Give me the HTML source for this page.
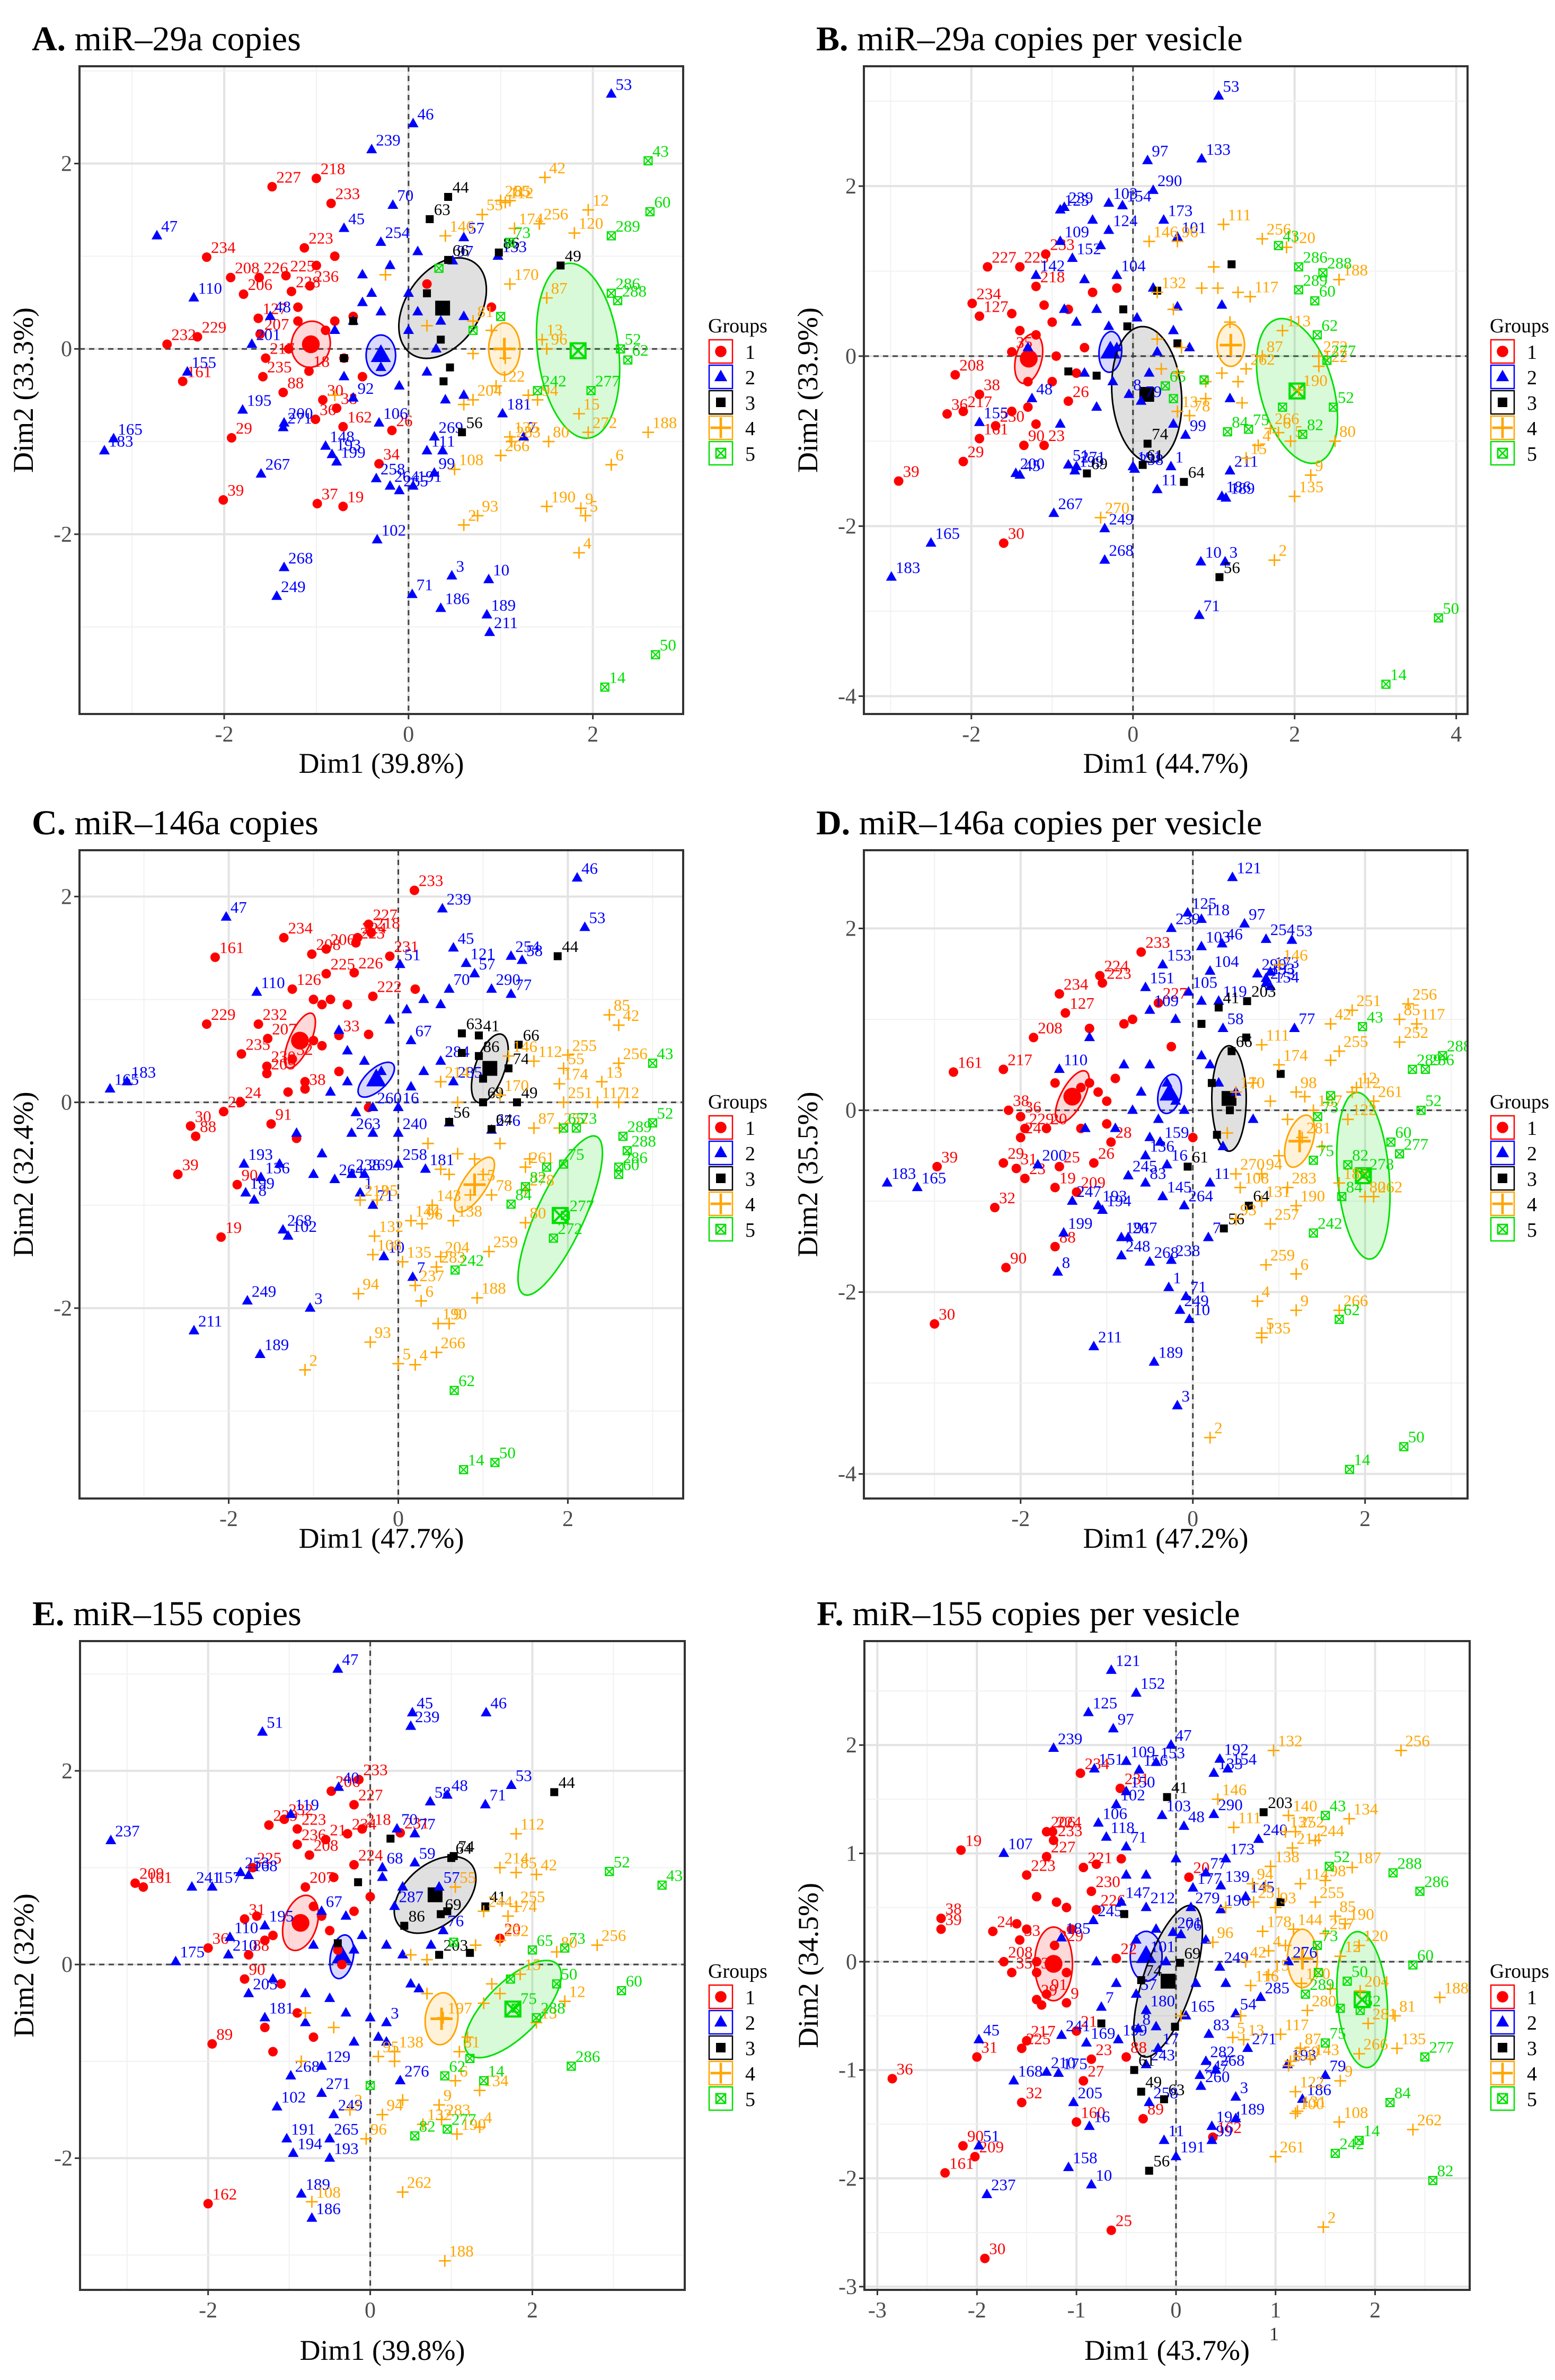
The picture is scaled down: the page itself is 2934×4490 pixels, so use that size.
<!DOCTYPE html>
<html><head><meta charset="utf-8">
<style>
html,body{margin:0;padding:0;background:#fff;}
svg{display:block;font-family:"Liberation Serif",serif;}
svg text{font-family:"Liberation Serif","DejaVu Serif",serif;}
</style></head>
<body>
<svg id="fig" width="2934" height="4490" viewBox="0 0 2934 4490" xmlns="http://www.w3.org/2000/svg"></svg>
<script>
// ---------- DATA (x, y, group, label) ----------
const A_pts = [
[-1.0,1.84,1,'218'],[-1.48,1.75,1,'227'],[-0.84,1.57,1,'233'],[-2.19,0.99,1,'234'],[-1.13,1.09,1,'223'],[-1.62,0.77,1,'226'],[-1.33,0.79,1,'225'],[-1.93,0.77,1,'208'],[-1.79,0.59,1,'206'],[-1.27,0.62,1,'228'],[-1.07,0.68,1,'236'],[-1.63,0.33,1,'127'],[-2.29,0.13,1,'229'],[-1.61,0.16,1,'207'],[-2.62,0.05,1,'232'],[-1.55,-0.1,1,'217'],[-1.08,-0.24,1,'18'],[-2.45,-0.35,1,'161'],[-1.58,-0.3,1,'235'],[-1.36,-0.47,1,'88'],[-1.92,-0.96,1,'29'],[-1.01,-0.76,1,'36'],[-0.78,-0.64,1,'38'],[-0.93,-0.55,1,'30'],[-2.01,-1.63,1,'39'],[-0.71,-0.84,1,'162'],[-0.32,-1.24,1,'34'],[-0.18,-0.88,1,'26'],[-0.99,-1.67,1,'37'],[-0.71,-1.7,1,'19'],
[-0.9,0.2,1,''],[-0.8,0.3,1,''],[-1.2,0.3,1,''],[-1.3,0.0,1,''],[-0.7,-0.1,1,''],[-1.0,0.9,1,''],[-0.8,1.0,1,''],[-1.2,0.45,1,''],[-0.6,0.35,1,''],[0.2,0.7,1,''],[0.9,0.45,1,''],[-0.5,-0.3,1,''],
[2.2,2.75,2,'53'],[0.05,2.43,2,'46'],[-0.4,2.15,2,'239'],[-0.17,1.55,2,'70'],[-0.7,1.3,2,'45'],[-2.73,1.22,2,'47'],[-0.3,1.15,2,'254'],[0.6,1.2,2,'57'],[0.48,0.95,2,'97'],[0.97,1.0,2,'133'],[-2.33,0.55,2,'110'],[-1.5,0.35,2,'48'],[-2.4,-0.25,2,'155'],[-1.7,0.05,2,'201'],[-1.8,-0.66,2,'195'],[-3.2,-0.97,2,'165'],[-3.3,-1.1,2,'183'],[-1.35,-0.8,2,'200'],[-1.36,-0.85,2,'271'],[-1.6,-1.35,2,'267'],[-0.9,-1.05,2,'148'],[-0.83,-1.14,2,'193'],[-0.78,-1.22,2,'199'],[-0.32,-0.8,2,'106'],[-0.6,-0.53,2,'92'],[-0.35,-1.4,2,'258'],[-0.2,-1.48,2,'264'],[-0.1,-1.53,2,'265'],[0.05,-1.48,2,'191'],[0.2,-1.1,2,'11'],[0.28,-0.95,2,'269'],[0.37,-1.1,2,'1'],[0.28,-1.34,2,'99'],[-1.35,-2.36,2,'268'],[-1.43,-2.67,2,'249'],[-0.34,-2.06,2,'102'],[0.04,-2.65,2,'71'],[0.47,-2.45,2,'3'],[0.87,-2.49,2,'10'],[0.85,-2.87,2,'189'],[0.35,-2.8,2,'186'],[0.88,-3.06,2,'211'],[1.25,-0.95,2,'7'],[1.02,-0.7,2,'181'],
[-0.5,0.8,2,''],[-0.4,0.6,2,''],[-0.2,0.9,2,''],[0,0.6,2,''],[0.1,0.4,2,''],[-0.6,0.3,2,''],[-0.8,0.2,2,''],[-0.3,0.4,2,''],[0,0.2,2,''],[0.2,-0.25,2,''],[0.6,-0.5,2,''],[0.4,-0.55,2,''],[-0.1,-0.4,2,''],[-0.3,-0.2,2,''],[0.1,1.05,2,''],[-0.5,0.5,2,''],[0.3,0.0,2,''],[0.6,0.35,2,''],[-0.7,-0.3,2,''],[0.35,0.3,2,''],
[0.43,1.64,3,'44'],[0.23,1.4,3,'63'],[0.43,0.96,3,'66'],[0.98,1.04,3,'86'],[1.65,0.9,3,'49'],[0.58,-0.9,3,'56'],[0.2,0.6,3,''],[0.35,0.1,3,''],[0.38,-0.35,3,''],[-0.6,0.3,3,''],[-0.7,-0.1,3,''],[0.45,-0.2,3,''],
[1.0,1.6,4,'255'],[1.1,1.6,4,'85'],[0.4,1.22,4,'146'],[0.8,1.45,4,'55'],[1.05,1.58,4,'112'],[1.15,1.3,4,'174'],[1.48,1.85,4,'42'],[1.95,1.5,4,'12'],[1.42,1.35,4,'256'],[1.8,1.25,4,'120'],[1.1,0.7,4,'170'],[0.7,0.3,4,'81'],[1.5,0.55,4,'87'],[1.45,0.1,4,'13'],[1.5,0.0,4,'96'],[0.95,-0.4,4,'122'],[1.4,-0.55,4,'94'],[1.85,-0.7,4,'15'],[0.7,-0.55,4,'204'],[1.95,-0.9,4,'272'],[2.6,-0.9,4,'188'],[1.1,-0.95,4,'135'],[1.52,-1.0,4,'80'],[1.0,-1.15,4,'266'],[1.12,-1.0,4,'283'],[0.5,-1.3,4,'108'],[2.2,-1.25,4,'6'],[0.75,-1.8,4,'93'],[1.87,-1.72,4,'9'],[1.5,-1.7,4,'190'],[1.92,-1.8,4,'5'],[0.6,-1.9,4,'2'],[1.85,-2.2,4,'4'],
[0.9,0.2,4,''],[1.05,-0.1,4,''],[0.7,-0.05,4,''],[0.6,-0.6,4,''],[1.3,-0.5,4,''],[-0.8,-0.5,4,''],[-0.25,0.8,4,''],[0.2,0.25,4,''],
[2.6,2.03,5,'43'],[2.62,1.48,5,'60'],[2.2,1.22,5,'289'],[1.1,1.15,5,'73'],[2.2,0.6,5,'286'],[2.27,0.52,5,'288'],[2.3,0.0,5,'52'],[2.38,-0.12,5,'62'],[1.98,-0.45,5,'277'],[1.4,-0.45,5,'242'],[2.68,-3.3,5,'50'],[2.13,-3.65,5,'14'],[0.33,0.87,5,''],[1.0,0.35,5,''],[0.7,0.2,5,'']
];
const A_ell = [[1,-1.06,0.05,0.25,0.21,80],[2,-0.3,-0.07,0.22,0.16,90],[3,0.37,0.44,0.6,0.4,55],[4,1.04,0.0,0.28,0.17,90],[5,1.84,-0.02,0.95,0.44,97]];

const B_pts = [
[-1.08,1.2,1,'233'],[-1.8,1.05,1,'227'],[-1.4,1.05,1,'223'],[-1.2,0.82,1,'218'],[-1.99,0.62,1,'234'],[-1.9,0.47,1,'127'],[-1.5,0.05,1,'35'],[-2.2,-0.22,1,'208'],[-1.9,-0.45,1,'38'],[-2.3,-0.68,1,'36'],[-2.1,-0.65,1,'217'],[-1.7,-0.82,1,'230'],[-1.9,-0.97,1,'161'],[-1.35,-1.05,1,'90'],[-1.1,-1.05,1,'23'],[-2.1,-1.24,1,'29'],[-2.9,-1.47,1,'39'],[-1.6,-2.2,1,'30'],[-0.8,-0.53,1,'26'],
[-1.5,0.5,1,''],[-1.4,0.3,1,''],[-1.2,0.25,1,''],[-1.0,0.4,1,''],[-1.1,0.6,1,''],[-0.8,0.55,1,''],[-1.3,-0.3,1,''],[-1.0,-0.3,1,''],[-1.5,-0.65,1,''],[-1.3,-0.6,1,''],[-0.7,-0.2,1,''],[-0.5,0.75,1,''],[-1.2,-0.8,1,''],[-0.95,0.0,1,''],[-0.6,0.1,1,''],[-0.2,0.8,1,''],
[1.06,3.06,2,'53'],[0.18,2.3,2,'97'],[0.85,2.32,2,'133'],[0.25,1.95,2,'290'],[-0.3,1.8,2,'103'],[-0.85,1.75,2,'239'],[-0.9,1.72,2,'125'],[-0.13,1.77,2,'154'],[0.38,1.6,2,'173'],[-0.9,1.35,2,'109'],[-0.3,1.48,2,'124'],[0.55,1.4,2,'101'],[-0.75,1.15,2,'152'],[-1.2,0.95,2,'142'],[-0.2,0.95,2,'104'],[-1.25,-0.5,2,'48'],[-1.9,-0.78,2,'155'],[-1.4,-1.4,2,'45'],[-0.8,-1.28,2,'51'],[-1.45,-1.38,2,'200'],[-0.7,-1.3,2,'271'],[-0.72,-1.35,2,'199'],[-0.98,-1.85,2,'267'],[-2.5,-2.2,2,'165'],[-2.99,-2.6,2,'183'],[-0.35,-2.03,2,'249'],[-0.35,-2.4,2,'268'],[0.0,-1.3,2,'191'],[0.02,-1.33,2,'258'],[0.3,-1.57,2,'11'],[0.65,-0.93,2,'99'],[0.47,-1.3,2,'1'],[1.1,-1.65,2,'186'],[1.2,-1.35,2,'211'],[1.15,-1.67,2,'189'],[0.84,-2.42,2,'10'],[1.14,-2.42,2,'3'],[0.82,-3.05,2,'71'],[0.1,-0.53,2,'79'],[-0.05,-0.45,2,'8'],
[-0.5,1.6,2,''],[-0.4,1.3,2,''],[-0.6,0.9,2,''],[-0.45,0.55,2,''],[-0.3,0.35,2,''],[-0.2,0.1,2,''],[0.05,0.45,2,''],[0.25,0.8,2,''],[0.5,0.3,2,''],[0.55,0.58,2,''],[0.7,0.1,2,''],[-0.7,0.4,2,''],[-0.85,0.55,2,''],[-0.6,-0.2,2,''],[-0.45,-0.6,2,''],[-0.25,-0.3,2,''],[0.2,-0.2,2,''],[0.5,-0.8,2,''],[-0.9,-0.8,2,''],[0.3,0.05,2,''],[1.1,0.6,2,''],[1.2,-0.5,2,''],[-1.3,0.1,2,''],
[0.3,0.77,3,''],[-0.12,0.55,3,''],[-0.07,0.35,3,''],[0.55,0.15,3,''],[-0.8,-0.18,3,''],[-0.45,-0.23,3,''],[0.18,-1.03,3,'74'],[0.12,-1.28,3,'61'],[0.63,-1.48,3,'64'],[-0.57,-1.38,3,'69'],[1.07,-2.6,3,'56'],[1.22,1.08,3,''],
[1.12,1.55,4,'111'],[1.6,1.38,4,'256'],[1.9,1.28,4,'120'],[0.2,1.35,4,'146'],[0.55,1.35,4,'96'],[0.3,0.75,4,'132'],[1.45,0.7,4,'117'],[1.85,0.3,4,'113'],[1.6,0.0,4,'87'],[2.3,-0.12,4,'122'],[2.3,0.0,4,'272'],[2.55,0.9,4,'188'],[1.4,-0.15,4,'262'],[2.05,-0.4,4,'190'],[1.7,-0.85,4,'266'],[1.8,-0.9,4,'6'],[1.55,-1.05,4,'4'],[1.95,-1.0,4,'5'],[2.5,-1.0,4,'80'],[2.2,-1.4,4,'9'],[1.4,-1.2,4,'15'],[2.0,-1.65,4,'135'],[1.75,-2.4,4,'2'],[0.7,-0.7,4,'78'],[0.55,-0.65,4,'13'],[-0.4,-1.9,4,'270'],
[1.0,1.05,4,''],[0.85,0.8,4,''],[1.05,0.8,4,''],[1.3,0.75,4,''],[1.2,0.4,4,''],[0.5,0.55,4,''],[0.3,0.2,4,''],[0.6,0.1,4,''],[0.35,-0.15,4,''],[0.9,-0.3,4,''],[1.1,-0.2,4,''],[0.9,-0.5,4,''],[1.3,-0.3,4,''],[1.35,-0.55,4,''],[0.55,-0.2,4,''],
[1.8,1.3,5,'43'],[2.35,0.98,5,'288'],[2.05,1.05,5,'286'],[2.05,0.78,5,'289'],[2.25,0.65,5,'60'],[2.28,0.25,5,'62'],[2.4,-0.05,5,'277'],[2.48,-0.6,5,'52'],[2.1,-0.92,5,'82'],[1.17,-0.89,5,'84'],[1.43,-0.86,5,'75'],[0.4,-0.35,5,'65'],[3.78,-3.08,5,'50'],[3.13,-3.86,5,'14'],[0.88,-0.28,5,''],[0.5,-0.5,5,''],[1.85,-0.6,5,'']
];
const B_ell = [[1,-1.29,-0.03,0.3,0.16,75],[2,-0.28,0.05,0.24,0.14,85],[3,0.17,-0.45,0.8,0.43,95],[4,1.21,0.13,0.25,0.17,90],[5,2.03,-0.41,0.88,0.45,107]];

const C_pts = [
[0.19,2.06,1,'233'],[-0.35,1.73,1,'227'],[-0.48,1.6,1,'224'],[-0.32,1.65,1,'218'],[-0.1,1.42,1,'231'],[-0.85,1.49,1,'206'],[-1.35,1.6,1,'234'],[-1.02,1.44,1,'208'],[-0.5,1.55,1,'223'],[-0.85,1.25,1,'225'],[-0.52,1.26,1,'226'],[-2.16,1.41,1,'161'],[-1.25,1.1,1,'126'],[-0.3,1.03,1,'222'],[-2.26,0.76,1,'229'],[-1.65,0.76,1,'232'],[-1.54,0.62,1,'207'],[-0.7,0.65,1,'33'],[-1.85,0.47,1,'235'],[-1.55,0.35,1,'230'],[-1.55,0.28,1,'209'],[-1.25,0.42,1,'32'],[-1.1,0.13,1,'38'],[-1.86,0.0,1,'24'],[-2.06,-0.09,1,'29'],[-2.45,-0.23,1,'30'],[-2.39,-0.33,1,'88'],[-1.5,-0.21,1,'91'],[-2.6,-0.7,1,'39'],[-1.9,-0.8,1,'90'],[-2.09,-1.31,1,'19'],
[-1.0,1.0,1,''],[-0.9,0.95,1,''],[-0.8,1.0,1,''],[-0.6,0.95,1,''],[-1.0,0.6,1,''],[-0.9,0.55,1,''],[-0.7,0.3,1,''],[-1.1,0.2,1,''],[-1.3,0.1,1,''],[-0.35,0.66,1,''],[0.2,1.1,1,''],[-0.35,-0.05,1,''],[-1.2,-0.35,1,''],
[2.11,2.18,2,'46'],[2.2,1.7,2,'53'],[0.52,1.88,2,'239'],[0.65,1.5,2,'45'],[-2.03,1.8,2,'47'],[0.8,1.35,2,'121'],[0.9,1.25,2,'57'],[1.33,1.42,2,'254'],[1.46,1.38,2,'58'],[0.02,1.34,2,'51'],[0.6,1.1,2,'70'],[1.33,1.05,2,'77'],[1.1,1.1,2,'290'],[-1.67,1.07,2,'110'],[0.15,0.6,2,'67'],[0.5,0.4,2,'284'],[0.65,0.2,2,'285'],[0.0,-0.05,2,'16'],[-0.3,-0.05,2,'260'],[-3.2,0.2,2,'183'],[-3.4,0.13,2,'165'],[-0.55,-0.3,2,'263'],[0.0,-0.3,2,'240'],[1.1,-0.27,2,'276'],[-1.82,-0.6,2,'193'],[-0.55,-0.7,2,'238'],[0.0,-0.6,2,'258'],[-0.4,-0.7,2,'269'],[-0.75,-0.75,2,'264'],[-1.62,-0.73,2,'136'],[-1.8,-0.88,2,'199'],[-1.7,-0.95,2,'8'],[0.32,-0.65,2,'181'],[-0.45,-0.88,2,'1'],[-0.3,-1.0,2,'71'],[-1.36,-1.24,2,'268'],[-1.3,-1.3,2,'102'],[-0.17,-1.5,2,'10'],[0.17,-1.7,2,'7'],[-1.78,-1.93,2,'249'],[-1.04,-2.0,2,'3'],[-2.41,-2.22,2,'211'],[-1.63,-2.45,2,'189'],
[-0.2,0.3,2,''],[-0.4,0.4,2,''],[-0.6,0.2,2,''],[-0.8,0.1,2,''],[-0.1,0.8,2,''],[0.1,0.9,2,''],[0.3,1.0,2,''],[0.5,0.95,2,''],[-0.5,-0.1,2,''],[-0.9,-0.5,2,''],[-1.2,-0.3,2,''],[-1.4,-0.6,2,''],[-0.3,-0.3,2,''],[0.3,0.3,2,''],[0.15,0.15,2,''],[-0.6,0.5,2,''],[-1.0,-0.7,2,''],[0.6,-0.2,2,''],[-0.7,0.7,2,''],
[1.88,1.42,3,'44'],[0.95,0.65,3,'41'],[0.75,0.67,3,'63'],[0.95,0.45,3,'86'],[1.42,0.56,3,'66'],[1.3,0.33,3,'74'],[1.0,0.0,3,'69'],[1.4,0.0,3,'49'],[0.6,-0.19,3,'56'],[1.1,-0.26,3,'64'],[0.75,0.48,3,''],[1.0,0.23,3,''],
[2.49,0.85,4,'85'],[2.6,0.75,4,'42'],[1.3,0.45,4,'146'],[1.6,0.4,4,'112'],[2.0,0.46,4,'255'],[2.6,0.38,4,'256'],[1.95,0.33,4,'55'],[1.9,0.18,4,'174'],[2.4,0.2,4,'13'],[0.5,0.2,4,'214'],[1.2,0.07,4,'170'],[1.95,0.0,4,'251'],[2.35,0.0,4,'117'],[2.6,0.0,4,'12'],[1.9,-0.25,4,'252'],[1.6,-0.25,4,'87'],[1.5,-0.63,4,'261'],[0.9,-0.8,4,'15'],[1.5,-0.85,4,'278'],[1.1,-0.9,4,'78'],[1.5,-1.17,4,'80'],[-0.25,-0.95,4,'95'],[-0.45,-0.95,4,'213'],[0.15,-1.15,4,'144'],[0.4,-1.0,4,'143'],[-0.28,-1.3,4,'132'],[0.28,-1.18,4,'96'],[0.65,-1.15,4,'138'],[-0.3,-1.48,4,'108'],[0.05,-1.55,4,'135'],[0.5,-1.5,4,'204'],[0.45,-1.6,4,'283'],[1.07,-1.45,4,'259'],[-0.47,-1.86,4,'94'],[0.2,-1.78,4,'237'],[0.27,-1.93,4,'6'],[0.93,-1.9,4,'188'],[0.47,-2.15,4,'190'],[0.6,-2.15,4,'9'],[-0.33,-2.33,4,'93'],[0.45,-2.43,4,'266'],[0.0,-2.54,4,'5'],[0.2,-2.55,4,'4'],[-1.1,-2.6,4,'2'],
[0.7,-0.5,4,''],[0.9,-0.55,4,''],[1.0,-0.7,4,''],[0.6,-0.7,4,''],[0.5,-0.65,4,''],[0.85,-0.9,4,''],[1.2,-0.4,4,''],[1.55,-0.55,4,''],[0.7,0.0,4,''],[0.35,-0.4,4,''],
[3.0,0.38,5,'43'],[3.0,-0.2,5,'52'],[2.65,-0.33,5,'289'],[2.6,-0.7,5,'60'],[2.7,-0.47,5,'288'],[2.6,-0.63,5,'286'],[2.1,-0.25,5,'73'],[1.95,-0.25,5,'65'],[1.95,-0.6,5,'75'],[1.5,-0.82,5,'82'],[1.33,-0.99,5,'84'],[0.67,-1.63,5,'242'],[1.83,-1.32,5,'272'],[1.97,-1.1,5,'277'],[0.66,-2.8,5,'62'],[0.77,-3.57,5,'14'],[1.14,-3.5,5,'50'],[1.75,-0.63,5,'']
];
const C_ell = [[1,-1.16,0.6,0.3,0.12,60],[2,-0.26,0.22,0.25,0.11,35],[3,1.08,0.33,0.36,0.17,65],[4,0.9,-0.8,0.33,0.13,50],[5,1.91,-1.1,0.88,0.27,60]];

const D_pts = [
[-0.6,1.74,1,'233'],[-1.08,1.48,1,'224'],[-1.05,1.4,1,'223'],[-1.55,1.28,1,'234'],[-1.48,1.07,1,'127'],[-0.4,1.18,1,'227'],[-1.85,0.8,1,'208'],[-2.2,0.45,1,'217'],[-2.78,0.42,1,'161'],[-2.14,0.0,1,'38'],[-2.0,-0.07,1,'36'],[-2.0,-0.3,1,'24'],[-1.7,-0.2,1,'20'],[-1.95,-0.2,1,'229'],[-2.97,-0.62,1,'39'],[-2.2,-0.58,1,'29'],[-2.05,-0.64,1,'31'],[-1.55,-0.62,1,'25'],[-1.15,-0.58,1,'26'],[-1.95,-0.75,1,'23'],[-1.35,-0.9,1,'209'],[-1.6,-0.85,1,'19'],[-2.3,-1.07,1,'32'],[-2.17,-1.73,1,'90'],[-1.6,-1.5,1,'88'],[-3.0,-2.35,1,'30'],[-0.95,-0.35,1,'28'],
[-1.3,0.25,1,''],[-1.2,0.3,1,''],[-1.1,0.2,1,''],[-1.0,0.1,1,''],[-0.9,0.35,1,''],[-0.8,0.95,1,''],[-0.7,1.0,1,''],[-1.2,0.9,1,''],[-1.6,0.3,1,''],[-1.0,-0.15,1,''],[0.0,-0.3,1,''],[-0.25,0.7,1,''],[-1.3,-0.2,1,''],
[0.46,2.56,2,'121'],[-0.06,2.17,2,'125'],[0.1,2.1,2,'118'],[0.6,2.05,2,'97'],[1.15,1.87,2,'53'],[-0.25,2.0,2,'239'],[0.1,1.8,2,'103'],[0.34,1.83,2,'46'],[0.85,1.88,2,'254'],[-0.35,1.6,2,'153'],[0.2,1.53,2,'104'],[0.85,1.45,2,'133'],[0.75,1.5,2,'290'],[0.9,1.52,2,'173'],[-0.55,1.35,2,'151'],[0.85,1.4,2,'273'],[0.9,1.36,2,'154'],[-0.05,1.3,2,'105'],[0.3,1.2,2,'119'],[-0.5,1.1,2,'109'],[0.35,0.9,2,'58'],[1.18,0.9,2,'77'],[-1.55,0.45,2,'110'],[-0.38,-0.35,2,'159'],[-0.55,-0.5,2,'136'],[-1.8,-0.6,2,'200'],[-0.3,-0.6,2,'16'],[-0.75,-0.72,2,'245'],[-0.55,-0.8,2,'83'],[-0.35,-0.95,2,'145'],[-3.55,-0.8,2,'183'],[-3.2,-0.85,2,'165'],[-1.4,-1.0,2,'247'],[-1.1,-1.05,2,'193'],[-1.05,-1.1,2,'194'],[0.2,-0.8,2,'11'],[-0.1,-1.05,2,'264'],[-1.5,-1.35,2,'199'],[-0.83,-1.4,2,'191'],[-0.75,-1.4,2,'267'],[-0.83,-1.6,2,'248'],[-0.25,-1.65,2,'238'],[0.18,-1.4,2,'7'],[-0.5,-1.67,2,'268'],[-0.28,-1.95,2,'1'],[-1.57,-1.78,2,'8'],[-0.15,-2.2,2,'249'],[-0.08,-2.05,2,'71'],[-0.04,-2.3,2,'10'],[-1.15,-2.6,2,'211'],[-0.45,-2.77,2,'189'],[-0.18,-3.25,2,'3'],
[-0.5,0.5,2,''],[-0.3,0.3,2,''],[-0.2,0.1,2,''],[-0.6,0.2,2,''],[-0.7,0.0,2,''],[-0.4,-0.1,2,''],[0.1,0.6,2,''],[0.2,0.5,2,''],[0.3,0.3,2,''],[-0.1,0.0,2,''],[0.35,-0.4,2,''],[0.5,0.2,2,''],[-0.8,0.5,2,''],[-0.9,-0.2,2,''],[0.7,-0.1,2,''],[-0.2,1.0,2,''],[0.1,1.2,2,''],[-1.2,0.8,2,''],[-1.25,-0.2,2,''],[-0.5,-0.3,2,''],
[0.3,1.13,3,'41'],[0.63,1.2,3,'203'],[0.1,0.95,3,''],[0.45,0.65,3,'66'],[0.62,0.8,3,''],[1.02,0.4,3,''],[-0.06,-0.62,3,'61'],[0.36,-1.3,3,'56'],[0.65,-1.05,3,'64'],[0.28,-0.27,3,''],[0.43,0.0,3,''],[0.22,0.3,3,''],
[1.0,1.6,4,'146'],[2.5,1.17,4,'256'],[2.6,0.95,4,'117'],[1.85,1.1,4,'251'],[1.6,0.95,4,'42'],[2.4,1.0,4,'85'],[2.4,0.75,4,'252'],[0.8,0.72,4,'111'],[1.0,0.5,4,'174'],[1.7,0.65,4,'255'],[1.9,0.25,4,'12'],[1.85,0.2,4,'112'],[1.2,0.2,4,'98'],[0.5,0.2,4,'170'],[1.4,0.0,4,'187'],[1.8,-0.1,4,'122'],[1.27,-0.3,4,'281'],[0.8,-0.7,4,'94'],[0.5,-0.7,4,'270'],[0.55,-0.85,4,'108'],[1.1,-0.85,4,'283'],[1.7,-0.8,4,'188'],[2.1,-0.95,4,'262'],[0.8,-1.0,4,'131'],[1.2,-1.05,4,'190'],[0.5,-1.2,4,'93'],[0.9,-1.25,4,'257'],[0.85,-1.7,4,'259'],[1.2,-1.8,4,'6'],[0.75,-2.1,4,'4'],[1.2,-2.2,4,'9'],[0.8,-2.45,4,'5'],[1.7,-2.2,4,'266'],[0.8,-2.5,4,'135'],[0.2,-3.6,4,'2'],[2.0,-0.95,4,'80'],[2.1,0.1,4,'261'],
[0.7,0.3,4,''],[0.9,0.1,4,''],[1.1,-0.1,4,''],[1.3,0.15,4,''],[1.6,0.55,4,''],[1.5,-0.4,4,''],[1.0,-0.5,4,''],[0.4,-0.25,4,''],
[1.97,0.92,5,'43'],[2.9,0.6,5,'288'],[2.55,0.45,5,'289'],[2.7,0.45,5,'286'],[2.65,0.0,5,'52'],[2.3,-0.35,5,'60'],[2.4,-0.48,5,'277'],[2.0,-0.7,5,'278'],[1.45,-0.07,5,'73'],[1.4,-0.55,5,'75'],[1.8,-0.6,5,'82'],[1.73,-0.95,5,'84'],[1.4,-1.35,5,'242'],[1.7,-2.3,5,'62'],[1.82,-3.95,5,'14'],[2.45,-3.7,5,'50'],[1.6,0.16,5,'']
];
const D_ell = [[1,-1.4,0.15,0.32,0.13,60],[2,-0.27,0.18,0.22,0.13,75],[3,0.42,0.13,0.58,0.2,90],[4,1.24,-0.34,0.3,0.15,70],[5,1.98,-0.72,0.92,0.3,95]];

const E_pts = [
[-0.14,1.91,1,'233'],[-0.48,1.79,1,'206'],[-1.06,1.5,1,'232'],[-0.9,1.4,1,'223'],[-0.2,1.65,1,'227'],[0.37,1.36,1,'231'],[-0.1,1.4,1,'218'],[-1.25,1.44,1,'229'],[-0.28,1.35,1,'234'],[-0.55,1.29,1,'21'],[-0.9,1.24,1,'236'],[-1.45,1.0,1,'225'],[-0.2,1.03,1,'224'],[-0.75,1.13,1,'208'],[-2.9,0.84,1,'209'],[-2.8,0.8,1,'161'],[-0.8,0.8,1,'207'],[-1.55,0.47,1,'31'],[-2.0,0.17,1,'36'],[-1.5,0.1,1,'88'],[-1.55,-0.15,1,'90'],[-1.95,-0.82,1,'89'],[-2.0,-2.47,1,'162'],[1.6,0.27,1,'20'],
[-0.7,0.6,1,''],[-0.6,0.5,1,''],[-0.5,0.35,1,''],[-1.2,0.3,1,''],[-1.3,0.25,1,''],[-1.1,-0.2,1,''],[-0.9,-0.5,1,''],[-0.7,-0.75,1,''],[-1.3,-0.65,1,''],[-1.2,-0.9,1,''],[-0.4,0.15,1,''],[-0.2,0.55,1,''],[0.0,0.7,1,''],[-0.35,0.0,1,''],[-1.4,0.5,1,''],[-0.45,0.9,1,''],
[-0.4,3.05,2,'47'],[0.52,2.6,2,'45'],[1.43,2.6,2,'46'],[0.5,2.46,2,'239'],[-1.33,2.4,2,'51'],[-0.39,1.83,2,'40'],[-0.98,1.55,2,'119'],[0.33,1.4,2,'70'],[0.74,1.68,2,'58'],[0.95,1.75,2,'48'],[1.74,1.85,2,'53'],[1.42,1.65,2,'71'],[0.55,1.35,2,'77'],[-3.2,1.28,2,'237'],[0.15,1.0,2,'68'],[0.55,1.05,2,'59'],[0.85,0.8,2,'57'],[-1.6,0.95,2,'253'],[-1.5,0.92,2,'168'],[-1.95,0.8,2,'157'],[-2.2,0.8,2,'241'],[0.3,0.6,2,'287'],[-1.3,0.4,2,'195'],[-0.6,0.55,2,'67'],[-1.73,0.28,2,'110'],[0.9,0.35,2,'76'],[-2.4,0.03,2,'175'],[-1.75,0.1,2,'210'],[-1.5,-0.3,2,'205'],[-1.3,-0.55,2,'181'],[-0.6,-1.05,2,'129'],[0.2,-0.6,2,'3'],[-0.98,-1.15,2,'268'],[-0.6,-1.33,2,'271'],[0.37,-1.2,2,'276'],[-1.15,-1.47,2,'102'],[-0.45,-1.55,2,'249'],[-1.03,-1.8,2,'191'],[-0.5,-1.8,2,'265'],[-0.5,-2.0,2,'193'],[-0.95,-1.95,2,'194'],[-0.85,-2.37,2,'189'],[-0.72,-2.62,2,'186'],
[-0.1,0.3,2,''],[-0.2,0.15,2,''],[0.2,0.2,2,''],[0.4,0.1,2,''],[0.5,-0.2,2,''],[0.6,-0.25,2,''],[-0.8,-0.3,2,''],[-0.5,-0.35,2,''],[-0.3,-0.5,2,''],[0.0,-0.55,2,''],[0.2,-0.8,2,''],[-0.7,0.2,2,''],[-0.2,-0.8,2,''],[0.1,-0.75,2,''],[0.15,0.9,2,''],[0.4,0.8,2,''],[-0.3,0.5,2,''],[-1.2,-0.15,2,''],[0.75,0.2,2,''],[-0.8,-0.6,2,''],
[2.27,1.78,3,'44'],[1.0,1.1,3,'64'],[1.03,1.12,3,'74'],[1.42,0.6,3,'41'],[0.42,0.4,3,'86'],[0.87,0.52,3,'69'],[0.85,0.1,3,'203'],[0.25,1.3,3,''],[-0.15,0.85,3,''],[-0.4,0.22,3,''],[1.23,0.12,3,''],[0.95,0.55,3,''],
[1.8,1.35,4,'112'],[1.6,1.0,4,'214'],[1.8,0.95,4,'85'],[2.05,0.93,4,'42'],[1.05,0.8,4,'55'],[1.8,0.6,4,'255'],[1.4,0.55,4,'244'],[1.7,0.5,4,'174'],[1.6,0.25,4,'252'],[2.8,0.2,4,'256'],[2.3,0.13,4,'80'],[1.85,-0.1,4,'15'],[2.4,-0.38,4,'12'],[2.05,-0.6,4,'13'],[0.9,-0.55,4,'197'],[1.1,-0.9,4,'81'],[0.3,-0.9,4,'138'],[0.1,-0.95,4,'95'],[1.05,-1.2,4,'6'],[1.35,-1.3,4,'134'],[0.85,-1.45,4,'9'],[0.88,-1.6,4,'283'],[1.35,-1.68,4,'4'],[0.65,-1.65,4,'132'],[1.07,-1.75,4,'190'],[0.15,-1.55,4,'94'],[-0.25,-1.5,4,'2'],[-0.05,-1.8,4,'96'],[0.4,-2.35,4,'262'],[-0.72,-2.45,4,'108'],[0.92,-3.06,4,'188'],
[0.7,0.05,4,''],[0.5,0.1,4,''],[1.3,0.2,4,''],[1.5,-0.2,4,''],[1.4,-0.4,4,''],[1.2,-0.75,4,''],[0.7,-0.3,4,''],[-0.8,-0.5,4,''],[-0.45,-0.65,4,''],[-0.85,-1.0,4,''],[0.4,-1.4,4,''],[0.3,-1.0,4,''],[1.6,-0.3,4,''],
[2.95,0.96,5,'52'],[3.6,0.82,5,'43'],[2.4,0.17,5,'73'],[2.0,0.15,5,'65'],[3.1,-0.27,5,'60'],[2.05,-0.55,5,'288'],[2.48,-1.05,5,'286'],[1.8,-0.45,5,'75'],[2.3,-0.2,5,'50'],[1.4,-1.2,5,'14'],[0.92,-1.15,5,'62'],[0.55,-1.77,5,'82'],[0.95,-1.7,5,'277'],[1.03,0.23,5,''],[0,-1.25,5,''],[1.73,-0.15,5,''],[1.23,-0.97,5,'']
];
const E_ell = [[1,-0.86,0.43,0.3,0.2,65],[2,-0.35,0.08,0.23,0.14,75],[3,0.8,0.72,0.55,0.33,30],[4,0.88,-0.56,0.27,0.2,80],[5,1.76,-0.46,0.72,0.3,38]];

const F_pts = [
[-0.96,1.74,1,'234'],[-0.56,1.6,1,'231'],[-1.3,1.2,1,'206'],[-1.24,1.2,1,'224'],[-1.23,1.12,1,'233'],[-0.93,0.87,1,'221'],[-2.16,1.03,1,'19'],[-1.3,0.97,1,'227'],[-1.5,0.8,1,'223'],[-0.85,0.65,1,'230'],[-0.8,0.48,1,'226'],[0.13,0.78,1,'20'],[-2.36,0.4,1,'38'],[-2.36,0.3,1,'39'],[-1.84,0.28,1,'24'],[-1.57,0.2,1,'33'],[-1.22,0.15,1,'229'],[-1.73,0.0,1,'208'],[-1.65,-0.1,1,'35'],[-1.4,-0.1,1,'37'],[-0.6,0.03,1,'22'],[-1.3,-0.3,1,'91'],[-1.4,-0.35,1,'29'],[-1.1,-0.38,1,'9'],[-1.0,-0.64,1,'21'],[-1.5,-0.73,1,'217'],[-1.55,-0.8,1,'225'],[-2.0,-0.88,1,'31'],[-2.85,-1.08,1,'36'],[-1.55,-1.3,1,'32'],[-0.85,-0.9,1,'23'],[-0.93,-1.1,1,'27'],[-1.0,-1.48,1,'160'],[-0.33,-1.45,1,'89'],[-0.5,-0.88,1,'88'],[0.37,-1.62,1,'162'],[-2.14,-1.7,1,'90'],[-2.02,-1.8,1,'209'],[-2.32,-1.95,1,'161'],[-0.65,-2.48,1,'25'],[-1.92,-2.74,1,'30'],
[-1.1,0.5,1,''],[-1.4,0.6,1,''],[-1.2,0.55,1,''],[-0.8,0.9,1,''],[-0.55,0.95,1,''],[-1.5,0.3,1,''],[-1.6,0.35,1,''],[-1.4,0.0,1,''],[-1.1,-0.1,1,''],[-1.35,-0.4,1,''],[-1.05,0.3,1,''],
[-0.65,2.69,2,'121'],[-0.4,2.48,2,'152'],[-0.88,2.3,2,'125'],[-0.63,2.15,2,'97'],[-0.05,2.0,2,'47'],[0.38,1.74,2,'133'],[-1.23,1.97,2,'239'],[-0.82,1.78,2,'151'],[-0.5,1.85,2,'109'],[-0.2,1.84,2,'153'],[0.44,1.87,2,'192'],[0.52,1.78,2,'154'],[-0.37,1.77,2,'156'],[-0.5,1.57,2,'150'],[0.38,1.36,2,'290'],[-0.6,1.45,2,'102'],[-0.78,1.28,2,'106'],[-0.14,1.35,2,'103'],[-0.7,1.15,2,'118'],[-0.5,1.06,2,'71'],[0.08,1.25,2,'48'],[0.83,1.13,2,'240'],[-1.73,1.0,2,'107'],[0.5,0.95,2,'173'],[0.3,0.82,2,'77'],[0.7,0.6,2,'145'],[-0.55,0.55,2,'147'],[0.17,0.68,2,'177'],[0.45,0.7,2,'139'],[-0.3,0.5,2,'212'],[-0.83,0.38,2,'245'],[-0.03,0.27,2,'201'],[-1.15,0.22,2,'185'],[0.45,0.48,2,'196'],[0.15,0.5,2,'279'],[0.05,0.25,2,'76'],[0.44,-0.05,2,'249'],[-0.3,0.05,2,'101'],[1.13,0.0,2,'276'],[-0.4,-0.3,2,'57'],[-0.75,-0.42,2,'7'],[-0.3,-0.45,2,'180'],[0.1,-0.5,2,'165'],[0.85,-0.33,2,'285'],[0.6,-0.48,2,'54'],[-1.98,-0.72,2,'45'],[-0.38,-0.62,2,'8'],[-0.58,-0.72,2,'199'],[-0.18,-0.8,2,'17'],[0.33,-0.67,2,'83'],[-1.15,-0.68,2,'241'],[-0.9,-0.75,2,'169'],[-1.3,-1.02,2,'210'],[-1.63,-1.1,2,'168'],[-1.18,-1.03,2,'175'],[-1.03,-1.3,2,'205'],[-0.3,-0.95,2,'243'],[0.3,-0.92,2,'282'],[1.12,-0.95,2,'193'],[0.4,-1.0,2,'268'],[0.72,-0.8,2,'271'],[1.5,-1.05,2,'79'],[1.27,-1.27,2,'186'],[0.24,-1.05,2,'247'],[0.25,-1.15,2,'260'],[0.6,-1.25,2,'3'],[0.6,-1.45,2,'189'],[-0.87,-1.52,2,'16'],[-0.27,-1.3,2,'258'],[0.36,-1.52,2,'194'],[-0.12,-1.65,2,'11'],[0.36,-1.65,2,'99'],[0.0,-1.8,2,'191'],[-1.08,-1.9,2,'158'],[-1.9,-2.15,2,'237'],[-0.85,-2.06,2,'10'],[-1.98,-1.7,2,'51'],
[-0.2,0.3,2,''],[-0.4,0.2,2,''],[-0.1,0.0,2,''],[0.2,-0.2,2,''],[0.3,0.2,2,''],[-0.6,-0.2,2,''],[-0.2,-0.6,2,''],[0.5,-0.2,2,''],[-0.8,0.0,2,''],[-0.5,0.8,2,''],[-0.3,0.8,2,''],[0.0,0.95,2,''],
[-0.09,1.52,3,'41'],[0.88,1.38,3,'203'],[0.04,-0.01,3,'69'],[1.05,0.55,3,''],[-0.35,-0.17,3,'74'],[-0.52,0.44,3,''],[-0.75,-0.57,3,''],[-0.42,-1.0,3,'61'],[-0.35,-1.2,3,'49'],[-0.12,-1.27,3,'63'],[-0.27,-1.93,3,'56'],[-0.01,-0.6,3,''],
[0.98,1.95,4,'132'],[2.26,1.95,4,'256'],[0.42,1.5,4,'146'],[1.13,1.35,4,'140'],[1.1,1.2,4,'137'],[1.2,1.2,4,'252'],[1.74,1.32,4,'134'],[0.58,1.24,4,'111'],[1.4,1.12,4,'244'],[1.17,1.05,4,'214'],[0.77,0.72,4,'94'],[0.95,0.88,4,'138'],[1.25,0.72,4,'114'],[1.77,0.87,4,'187'],[1.5,0.75,4,'98'],[0.78,0.55,4,'251'],[1.0,0.5,4,'93'],[1.4,0.55,4,'255'],[1.6,0.42,4,'85'],[0.87,0.28,4,'178'],[1.18,0.3,4,'144'],[1.5,0.26,4,'257'],[1.7,0.35,4,'190'],[0.37,0.18,4,'96'],[0.7,0.0,4,'42'],[0.93,0.1,4,'4'],[1.65,0.05,4,'12'],[1.84,0.15,4,'120'],[0.75,-0.22,4,'116'],[0.93,-0.12,4,'15'],[1.26,-0.2,4,'170'],[1.32,-0.45,4,'280'],[1.85,-0.27,4,'204'],[0.57,-0.7,4,'5'],[0.68,-0.72,4,'13'],[1.05,-0.67,4,'117'],[1.93,-0.57,4,'281'],[2.2,-0.5,4,'81'],[2.22,-0.8,4,'135'],[2.65,-0.33,4,'188'],[1.15,-0.92,4,'259'],[1.25,-0.8,4,'87'],[1.35,-0.9,4,'143'],[1.84,-0.85,4,'266'],[1.13,-0.96,4,'6'],[1.2,-1.2,4,'122'],[1.65,-1.1,4,'9'],[1.2,-1.4,4,'100'],[1.22,-1.38,4,'131'],[1.64,-1.48,4,'108'],[1.0,-1.8,4,'261'],[2.38,-1.55,4,'262'],[1.48,-2.45,4,'2'],
[0.05,-0.5,4,''],[0.9,0.7,4,''],[1.1,0.15,4,''],[0.5,0.5,4,''],[0.65,-0.5,4,''],[1.55,-0.25,4,''],
[1.5,1.35,5,'43'],[1.54,0.88,5,'52'],[2.18,0.82,5,'288'],[2.45,0.65,5,'286'],[2.38,-0.03,5,'60'],[1.42,0.15,5,'73'],[1.43,-0.1,5,''],[1.3,-0.3,5,'289'],[1.72,-0.18,5,'50'],[1.85,-0.45,5,'62'],[1.5,-0.75,5,'75'],[1.65,-0.43,5,''],[2.5,-0.88,5,'277'],[2.15,-1.3,5,'84'],[1.84,-1.65,5,'14'],[1.6,-1.77,5,'242'],[2.58,-2.02,5,'82']
];
const F_ell = [[1,-1.23,-0.02,0.34,0.19,90],[2,-0.3,0.05,0.23,0.16,90],[3,-0.08,-0.18,0.74,0.25,70],[4,1.27,0.03,0.27,0.15,90],[5,1.87,-0.35,0.63,0.25,95]];

// ---------- LAYOUT ----------
const COLORS = {1:'#ff0000',2:'#0000ff',3:'#000000',4:'#ffa500',5:'#00e000'};
const panels = [
 {id:'a',letter:'A.',title:' miR\u201329a copies',box:[150,125,1289,1347],xr:[-3.57,2.98],yr:[-3.94,3.05],xt:[-2,0,2],yt:[-2,0,2],step:2,xl:'Dim1 (39.8%)',yl:'Dim2 (33.3%)',ty:95,xly:1458,lg:[1336,615],pts:A_pts,ell:A_ell},
 {id:'b',letter:'B.',title:' miR\u201329a copies per vesicle',box:[1630,125,2769,1347],xr:[-3.33,4.14],yr:[-4.21,3.41],xt:[-2,0,2,4],yt:[-4,-2,0,2],step:2,xl:'Dim1 (44.7%)',yl:'Dim2 (33.9%)',ty:95,xly:1458,lg:[2811,615],pts:B_pts,ell:B_ell},
 {id:'c',letter:'C.',title:' miR\u2013146a copies',box:[150,1604,1289,2827],xr:[-3.76,3.36],yr:[-3.85,2.45],xt:[-2,0,2],yt:[-2,0,2],step:2,xl:'Dim1 (47.7%)',yl:'Dim2 (32.4%)',ty:1574,xly:2920,lg:[1336,2079],pts:C_pts,ell:C_ell},
 {id:'d',letter:'D.',title:' miR\u2013146a copies per vesicle',box:[1630,1604,2769,2827],xr:[-3.82,3.19],yr:[-4.27,2.86],xt:[-2,0,2],yt:[-4,-2,0,2],step:2,xl:'Dim1 (47.2%)',yl:'Dim2 (35.5%)',ty:1574,xly:2920,lg:[2811,2079],pts:D_pts,ell:D_ell},
 {id:'e',letter:'E.',title:' miR\u2013155 copies',box:[151,3096,1292,4320],xr:[-3.58,3.88],yr:[-3.36,3.34],xt:[-2,0,2],yt:[-2,0,2],step:2,xl:'Dim1 (39.8%)',yl:'Dim2 (32%)',ty:3066,xly:4452,lg:[1336,3719],pts:E_pts,ell:E_ell},
 {id:'f',letter:'F.',title:' miR\u2013155 copies per vesicle',box:[1631,3096,2773,4320],xr:[-3.13,2.95],yr:[-3.03,2.96],xt:[-3,-2,-1,0,1,2],yt:[-3,-2,-1,0,1,2],step:1,xl:'Dim1 (43.7%)',yl:'Dim2 (34.5%)',ty:3066,xly:4452,lg:[2811,3719],pts:F_pts,ell:F_ell}
];

const NS='http://www.w3.org/2000/svg';
const svg=document.getElementById('fig');
function mk(tag,attrs,parent){const e=document.createElementNS(NS,tag);for(const k in attrs)e.setAttribute(k,attrs[k]);(parent||svg).appendChild(e);return e;}

function marker(g,x,y,s,parent){
  const c=COLORS[g];let e;
  if(g===1){e=mk('circle',{cx:x,cy:y,r:s*0.6,fill:c},parent);}
  else if(g===2){e=mk('polygon',{points:`${x},${y-s*0.75} ${x-s*0.68},${y+s*0.45} ${x+s*0.68},${y+s*0.45}`,fill:c},parent);}
  else if(g===3){e=mk('rect',{x:x-s*0.5,y:y-s*0.5,width:s,height:s,fill:c},parent);}
  else if(g===4){e=mk('path',{d:`M${x-s*0.75},${y}H${x+s*0.75}M${x},${y-s*0.75}V${y+s*0.75}`,stroke:c,'stroke-width':Math.max(2,s*0.18),fill:'none'},parent);}
  else {const h=s*0.5;e=mk('path',{d:`M${x-h},${y-h}h${s}v${s}h${-s}zM${x-h},${y-h}L${x+h},${y+h}M${x+h},${y-h}L${x-h},${y+h}`,stroke:c,'stroke-width':Math.max(2,s*0.15),fill:'none'},parent);}
  return e;
}

panels.forEach(p=>{
  const [x0,y0,x1,y1]=p.box;
  const sx=v=>x0+(v-p.xr[0])/(p.xr[1]-p.xr[0])*(x1-x0);
  const sy=v=>y1-(v-p.yr[0])/(p.yr[1]-p.yr[0])*(y1-y0);
  const G=mk('g',{});
  
  
  const t=mk('text',{x:x0-90,y:p.ty,'font-size':66,fill:'#000'},G);
  
  
  const tb=mk('tspan',{'font-weight':'bold'},t);tb.textContent=p.letter;
  const tr=mk('tspan',{},t);tr.textContent=p.title;
  const cp=mk('clipPath',{id:'clip'+p.id},G);mk('rect',{x:x0,y:y0,width:x1-x0,height:y1-y0},cp);
  const plot=mk('g',{'clip-path':`url(#clip${p.id})`},G);
  
  
  const half=p.step/2;
  for(let v=Math.ceil(p.xr[0]/half)*half;v<=p.xr[1];v+=half){
    const major=Math.abs(Math.round(v/p.step)*p.step-v)<1e-6;
    mk('line',{x1:sx(v),x2:sx(v),y1:y0,y2:y1,stroke:major?'#e3e3e3':'#f1f1f1','stroke-width':major?4:2},plot);
  }
  for(let v=Math.ceil(p.yr[0]/half)*half;v<=p.yr[1];v+=half){
    const major=Math.abs(Math.round(v/p.step)*p.step-v)<1e-6;
    mk('line',{y1:sy(v),y2:sy(v),x1:x0,x2:x1,stroke:major?'#e3e3e3':'#f1f1f1','stroke-width':major?4:2},plot);
  }
  const zx=mk('line',{x1:sx(0),x2:sx(0),y1:y0,y2:y1,stroke:'#444','stroke-width':3,'stroke-dasharray':'10,8'},plot);
  
  
  const zy=mk('line',{y1:sy(0),y2:sy(0),x1:x0,x2:x1,stroke:'#444','stroke-width':3,'stroke-dasharray':'10,8'},plot);
  
  
  p.ell.forEach(e=>{
    const [g,cx,cy,a,b,ang]=e;const th=ang*Math.PI/180;let pts=[];
    for(let i=0;i<72;i++){const ph=i/72*2*Math.PI;
      const dx=a*Math.cos(ph)*Math.cos(th)-b*Math.sin(ph)*Math.sin(th);
      const dy=a*Math.cos(ph)*Math.sin(th)+b*Math.sin(ph)*Math.cos(th);
      pts.push(sx(cx+dx).toFixed(1)+','+sy(cy+dy).toFixed(1));}
    const el=mk('polygon',{points:pts.join(' '),fill:COLORS[g],'fill-opacity':g===3?0.12:0.15,stroke:COLORS[g],'stroke-width':3},plot);
    
    
    const cm=marker(g,sx(cx),sy(cy),28,plot);
    
    
  });
  p.pts.forEach(d=>{
    const [x,y,g,lab]=d;const px=sx(x),py=sy(y);
    const m=marker(g,px,py,15,plot);
    
    
    if(lab){const tx=mk('text',{x:px+8,y:py-8,'font-size':31,fill:COLORS[g]},plot);tx.textContent=lab;
      
      }
  });
  const bd=mk('rect',{x:x0,y:y0,width:x1-x0,height:y1-y0,fill:'none',stroke:'#333','stroke-width':4},G);
  
  
  p.xt.forEach(v=>{mk('line',{x1:sx(v),x2:sx(v),y1:y1,y2:y1+10,stroke:'#333','stroke-width':3},G);
    const tl=mk('text',{x:sx(v),y:y1+52,'font-size':42,'text-anchor':'middle',fill:'#4d4d4d'},G);tl.textContent=v;
    
    });
  p.yt.forEach(v=>{mk('line',{x1:x0-10,x2:x0,y1:sy(v),y2:sy(v),stroke:'#333','stroke-width':3},G);
    const tl=mk('text',{x:x0-14,y:sy(v)+14,'font-size':42,'text-anchor':'end',fill:'#4d4d4d'},G);tl.textContent=v;
    
    });
  const xt=mk('text',{x:(x0+x1)/2,y:p.xly,'font-size':54,'text-anchor':'middle',fill:'#000'},G);xt.textContent=p.xl;
  
  
  const yc=(y0+y1)/2;
  const yt=mk('text',{x:0,y:0,'font-size':54,'text-anchor':'middle',fill:'#000',transform:`translate(${x0-88},${yc}) rotate(-90)`},G);yt.textContent=p.yl;
  
  
  const L=mk('g',{},G);
  
  
  const lt=mk('text',{x:p.lg[0],y:p.lg[1]+12,'font-size':38,fill:'#000'},L);lt.textContent='Groups';
  [1,2,3,4,5].forEach((g,i)=>{
    const cy=p.lg[1]+48+i*48;
    const it=mk('g',{},L);
    
    
    mk('rect',{x:p.lg[0]+2,y:cy-22,width:44,height:44,fill:'#fff',stroke:COLORS[g],'stroke-width':2.5},it);
    marker(g,p.lg[0]+24,cy,g===4?26:18,it);
    const n=mk('text',{x:p.lg[0]+70,y:cy+14,'font-size':38,fill:'#000'},it);n.textContent=g;
  });
});
const stray=mk('text',{x:2395,y:4415,'font-size':36,fill:'#333'});stray.textContent='1';


</script>
</body></html>
